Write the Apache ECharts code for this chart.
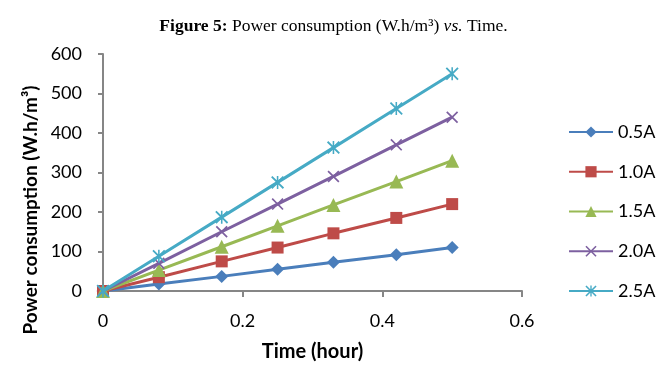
<!DOCTYPE html>
<html><head><meta charset="utf-8">
<script src="https://cdn.jsdelivr.net/npm/echarts@6/dist/echarts.min.js"></script>
<style>html,body{margin:0;padding:0;background:#fff}#c{width:667px;height:378px}</style>
</head><body><div id="c"></div>
<script>
const timeHours = [0, 0.08, 0.17, 0.25, 0.33, 0.42, 0.5];
const seriesNames = ['0.5A', '1.0A', '1.5A', '2.0A', '2.5A'];
const s05 = [0, 18, 37, 55, 73, 92, 110];
const s10 = [0, 35, 75, 110, 146, 185, 220];
const s15 = [0, 53, 112, 165, 218, 277, 330];
const s20 = [0, 70, 150, 220, 290, 370, 440];
const s25 = [0, 88, 187, 275, 363, 462, 550];
const xTicks = [0, 0.2, 0.4, 0.6];
const yTicks = [0, 100, 200, 300, 400, 500, 600];

const allValues = [s05, s10, s15, s20, s25];
const colors = ['#4A7EBB', '#BE4B48', '#98B954', '#7D60A0', '#46AAC5'];
const xPath = 'path://M0,1 L1,0 L5,4 L9,0 L10,1 L6,5 L10,9 L9,10 L5,6 L1,10 L0,9 L4,5 Z';
const starPath = 'path://M0,1 L1,0 L5,4 L9,0 L10,1 L6,5 L10,9 L9,10 L5,6 L1,10 L0,9 L4,5 Z M4.4,0 L5.6,0 L5.6,10 L4.4,10 Z';
const symbols = ['diamond', 'rect', 'triangle', xPath, starPath];
const sizes = [13, 12, 14, 12, 13];
const font = 'Lato, "Open Sans", sans-serif';

const chart = echarts.init(document.getElementById('c'));
chart.setOption({
  animation: false,
  backgroundColor: '#fff',
  title: {
    text: '{b|Figure 5:} Power consumption (W.h/m\u00B3) {i|vs.} Time.',
    left: 'center', top: 12,
    textStyle: {
      fontFamily: '"Liberation Serif", serif', fontSize: 17.5, color: '#000', fontWeight: 'normal',
      rich: {
        b: {fontFamily: '"Liberation Serif", serif', fontSize: 17.5, fontWeight: 'bold', color: '#000'},
        i: {fontFamily: '"Liberation Serif", serif', fontSize: 17.5, fontStyle: 'italic', color: '#000'}
      }
    }
  },
  grid: {left: 103, right: 145, top: 54, bottom: 87},
  legend: {
    orient: 'vertical', left: 568, top: 123, padding: 0,
    itemWidth: 44, itemHeight: 14, itemGap: 21.75,
    textStyle: {fontFamily: font, fontSize: 18, color: '#000'},
    data: seriesNames
  },
  graphic: [{
    type: 'text', x: 31, y: 210, rotation: Math.PI / 2,
    style: {
      text: 'Power consumption (W.h/m\u00B3)', fontFamily: font, fontSize: 19, fontWeight: 'bold',
      fill: '#000', textAlign: 'center', textVerticalAlign: 'middle'
    }
  }],
  xAxis: {
    type: 'value', min: xTicks[0], max: xTicks[xTicks.length - 1], interval: 0.2,
    name: 'Time (hour)', nameLocation: 'middle', nameGap: 51,
    nameTextStyle: {fontFamily: font, fontSize: 20, fontWeight: 'bold', color: '#000'},
    axisLine: {show: true, lineStyle: {color: '#868686', width: 2}},
    axisTick: {show: true, length: 6, lineStyle: {color: '#868686', width: 2}},
    axisLabel: {fontFamily: font, fontSize: 18, color: '#000', margin: 21,
      formatter: v => String(Math.round(v * 10) / 10)},
    splitLine: {show: false}
  },
  yAxis: {
    type: 'value', min: yTicks[0], max: yTicks[yTicks.length - 1], interval: 100,
    axisLine: {show: true, lineStyle: {color: '#868686', width: 2}},
    axisTick: {show: true, length: 5, lineStyle: {color: '#868686', width: 2}},
    axisLabel: {fontFamily: font, fontSize: 18, color: '#000', margin: 21},
    splitLine: {show: false}
  },
  series: seriesNames.map((name, i) => ({
    name, type: 'line',
    data: timeHours.map((t, j) => [t, allValues[i][j]]),
    symbol: symbols[i], symbolSize: sizes[i], showSymbol: true,
    lineStyle: {color: colors[i], width: 3},
    itemStyle: {color: colors[i], borderWidth: 0, opacity: 1},
    z: 2 + i
  }))
});
</script></body></html>
